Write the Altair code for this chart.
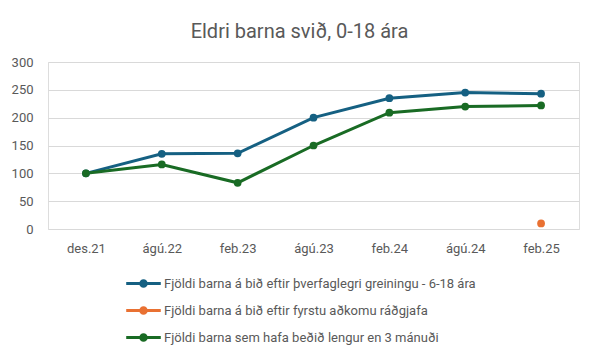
import altair as alt
import pandas as pd

categories = ["des.21", "ágú.22", "feb.23", "ágú.23", "feb.24", "ágú.24", "feb.25"]
series_names = [
    "Fjöldi barna á bið eftir þverfaglegri greiningu - 6-18 ára",
    "Fjöldi barna á bið eftir fyrstu aðkomu ráðgjafa",
    "Fjöldi barna sem hafa beðið lengur en 3 mánuði",
]
blue_values = [100, 135, 136, 200, 235, 245, 243]
orange_values = [None, None, None, None, None, None, 10]
green_values = [100, 116, 83, 150, 209, 220, 222]
colors = ["#156082", "#E97132", "#196B24"]
y_ticks = [0, 50, 100, 150, 200, 250, 300]

rows = []
for name, vals in zip(series_names, [blue_values, orange_values, green_values]):
    for c, v in zip(categories, vals):
        if v is not None:
            rows.append({"cat": c, "series": name, "value": v})
df = pd.DataFrame(rows)

FONT = "Roboto"
GREY = "#595959"

legend_path = "M-1.44,0L1.44,0M-0.23,0A0.23,0.23,0,1,1,0.23,0A0.23,0.23,0,1,1,-0.23,0"
legend = alt.Legend(
    title=None, orient="none", legendX=82, legendY=208, direction="vertical",
    symbolType=legend_path, symbolSize=576, symbolStrokeWidth=3,
    labelOffset=7, rowPadding=4, padding=0, labelFont=FONT, labelFontSize=13,
    labelColor=GREY, labelLimit=500,
)

x = alt.X("cat:N", sort=categories, scale=alt.Scale(type="point", padding=0.5),
          axis=alt.Axis(title=None, grid=False, domain=False, ticks=False, labelAngle=0,
                        labelPadding=13, labelFont=FONT, labelFontSize=13, labelColor=GREY))
y = alt.Y("value:Q", scale=alt.Scale(domain=[0, 300], nice=False),
          axis=alt.Axis(title=None, values=y_ticks, domain=False, ticks=False,
                        labelPadding=15, labelFont=FONT, labelFontSize=13, labelColor=GREY,
                        gridColor="#D9D9D9", gridWidth=1))
color = alt.Color("series:N", scale=alt.Scale(domain=series_names, range=colors), legend=legend)

base = alt.Chart(df)
lines = base.mark_line(strokeWidth=3).encode(x=x, y=y, color=color, detail="series:N")
points = base.mark_circle(size=60, opacity=1).encode(x=x, y=y, color=color)

chart = alt.layer(lines, points).properties(
    width=531, height=167,
    title=alt.TitleParams("Eldri barna svið, 0-18 ára", font=FONT, fontSize=20,
                          fontWeight="normal", color=GREY, anchor="middle", dx=-14, offset=14),
    padding={"left": 40, "top": 54, "right": 12, "bottom": 123},
    autosize=alt.AutoSizeParams(type="none"),
).configure_view(stroke=None).configure(background="white")

chart.save("out.html", embed_options={"renderer": "svg", "actions": False})
